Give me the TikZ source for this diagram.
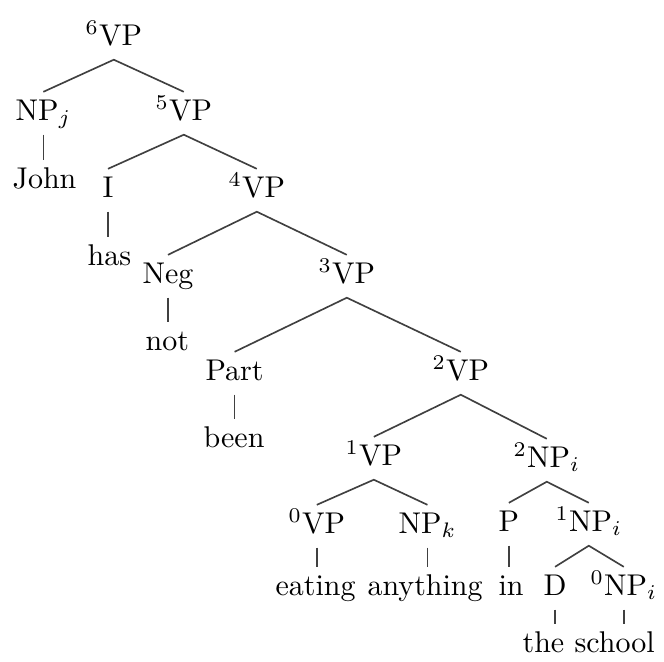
\documentclass[tikz,border=0pt]{standalone}
\begin{document}
\begin{tikzpicture}[x=0.3333pt,y=-0.3333pt,
  lbl/.style={anchor=base west, inner xsep=0pt, inner ysep=2.7pt,
              text height=6.5pt, text depth=2pt,
              font=\fontsize{10}{12}\selectfont},
  branch/.style={draw=black!75, line width=0.55pt}]
\useasboundingbox (0,0) rectangle (664,661);

% labels, placed by their baseline
\node[lbl] (vp6)  at (85,45)   {${}^{6}$VP};
\node[lbl] (npj)  at (15,120)  {NP$_j$};
\node[lbl] (vp5)  at (155,120) {${}^{5}$VP};
\node[lbl] (john) at (12,188)  {John};
\node[lbl] (infl) at (102,197) {I};
\node[lbl] (vp4)  at (228,197) {${}^{4}$VP};
\node[lbl] (has)  at (87,265)  {has};
\node[lbl] (neg)  at (142,283) {Neg};
\node[lbl] (vp3)  at (318,283) {${}^{3}$VP};
\node[lbl] (nt)   at (145,350) {not};
\node[lbl] (part) at (205,380) {Part};
\node[lbl] (vp2)  at (432,380) {${}^{2}$VP};
\node[lbl] (been) at (203,447) {been};
\node[lbl] (vp1)  at (345,465) {${}^{1}$VP};
\node[lbl] (np2)  at (513,467) {${}^{2}$NP$_i$};
\node[lbl] (vp0)  at (288,533) {${}^{0}$VP};
\node[lbl] (npk)  at (398,533) {NP$_k$};
\node[lbl] (prep) at (498,531) {P};
\node[lbl] (np1)  at (555,531) {${}^{1}$NP$_i$};
\node[lbl] (eat)  at (275,595) {eating};
\node[lbl] (any)  at (367,595) {anything};
\node[lbl] (in)   at (498,595) {in};
\node[lbl] (det)  at (543,595) {D};
\node[lbl] (np0)  at (590,595) {${}^{0}$NP$_i$};
\node[lbl] (the)  at (522,652) {the};
\node[lbl] (sch)  at (574,652) {school};

% branching edges
\draw[branch] (npj.north) -- (vp6.south) -- (vp5.north);
\draw[branch] (infl.north) -- (vp5.south) -- (vp4.north);
\draw[branch] (neg.north) -- (vp4.south) -- (vp3.north);
\draw[branch] (part.north) -- (vp3.south) -- (vp2.north);
\draw[branch] (vp1.north) -- (vp2.south) -- (np2.north);
\draw[branch] (vp0.north) -- (vp1.south) -- (npk.north);
\draw[branch] (prep.north) -- (np2.south) -- (np1.north);
\draw[branch] (det.north) -- (np1.south) -- (np0.north);

% unary edges down to the words
\draw[branch] (npj.south)  -- (npj.south  |- john.north);
\draw[branch] (infl.south) -- (infl.south |- has.north);
\draw[branch] (neg.south)  -- (neg.south  |- nt.north);
\draw[branch] (part.south) -- (part.south |- been.north);
\draw[branch] (vp0.south)  -- (vp0.south  |- eat.north);
\draw[branch] (npk.south)  -- (npk.south  |- any.north);
\draw[branch] (prep.south) -- (prep.south |- in.north);
\draw[branch] (det.south)  -- (det.south  |- the.north);
\draw[branch] (np0.south)  -- (np0.south  |- sch.north);
\end{tikzpicture}
\end{document}
